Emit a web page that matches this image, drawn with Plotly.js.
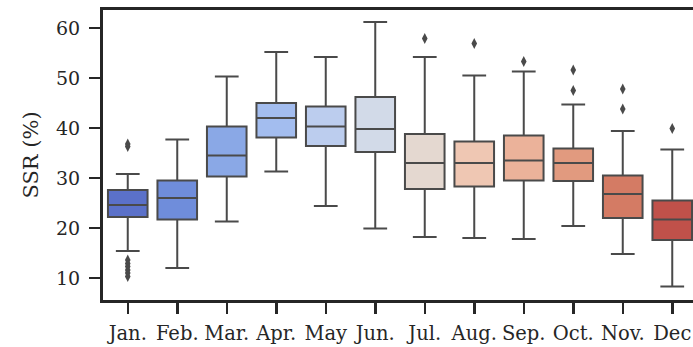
<!DOCTYPE html>
<html>
<head>
<meta charset="utf-8">
<script src="https://cdn.plot.ly/plotly-3.0.1.min.js"></script>
<style>
html,body{margin:0;padding:0;overflow:hidden;background:#fff;}
#chart{width:717px;height:347px;}
</style>
</head>
<body>
<div id="chart"></div>
<script>
// Data
var months = ['Jan.','Feb.','Mar.','Apr.','May','Jun.','Jul.','Aug.','Sep.','Oct.','Nov.','Dec'];
var lowerWhisker = [15.4, 12.0, 21.3, 31.3, 24.4, 19.9, 18.2, 18.0, 17.8, 20.4, 14.8, 8.3];
var q1Values     = [22.2, 21.7, 30.3, 38.1, 36.4, 35.2, 27.8, 28.3, 29.5, 29.4, 22.0, 17.6];
var medianValues = [24.6, 26.0, 34.5, 42.0, 40.3, 39.8, 33.0, 33.0, 33.5, 33.0, 26.8, 21.7];
var q3Values     = [27.6, 29.5, 40.3, 45.0, 44.3, 46.2, 38.8, 37.3, 38.5, 35.9, 30.5, 25.5];
var upperWhisker = [30.8, 37.7, 50.3, 55.2, 54.2, 61.2, 54.2, 50.5, 51.3, 44.7, 39.4, 35.7];
var outlierMonths = ['Jan.','Jan.','Jan.','Jan.','Jan.','Jan.','Jan.','Jan.',
                     'Jul.','Aug.','Sep.','Oct.','Oct.','Nov.','Nov.','Dec'];
var outlierValues = [36.3, 36.8, 13.6, 12.9, 12.3, 11.6, 11.0, 10.3,
                     57.9, 56.9, 53.3, 51.6, 47.5, 47.8, 43.8, 39.9];
var boxColors = ['#5b71c9','#6f8ddb','#8aa8e6','#a3bdef','#bccdee','#d2dae8',
                 '#e4d8d0','#efc7b3','#ebb29a','#e19a7f','#d47b64','#c0514a'];

var lineCol = '#4a4a4a';
var traces = [];
for (var i = 0; i < months.length; i++) {
  traces.push({
    type: 'box',
    x: [months[i]],
    q1: [q1Values[i]],
    median: [medianValues[i]],
    q3: [q3Values[i]],
    lowerfence: [lowerWhisker[i]],
    upperfence: [upperWhisker[i]],
    fillcolor: boxColors[i],
    line: {color: lineCol, width: 2},
    width: 0.8,
    whiskerwidth: 0.6,
    boxpoints: false,
    showlegend: false,
    hoverinfo: 'skip'
  });
}
traces.push({
  type: 'scatter',
  mode: 'markers',
  x: outlierMonths,
  y: outlierValues,
  marker: {symbol: 'diamond-tall', size: 8, color: lineCol},
  showlegend: false,
  hoverinfo: 'skip'
});

var fontFam = 'DejaVu Serif, serif';
var layout = {
  width: 717,
  height: 347,
  margin: {l: 103, r: 20, t: 10, b: 47},
  paper_bgcolor: '#ffffff',
  plot_bgcolor: '#ffffff',
  showlegend: false,
  font: {family: fontFam, color: '#262626', size: 19},
  xaxis: {
    type: 'category',
    categoryorder: 'array',
    categoryarray: months,
    range: [-0.5, 11.5],
    showgrid: false,
    zeroline: false,
    showline: true,
    mirror: true,
    linecolor: '#262626',
    linewidth: 3,
    ticks: 'outside',
    ticklen: 11,
    tickwidth: 2.5,
    tickcolor: '#262626',
    ticklabelstandoff: 3,
    tickfont: {family: fontFam, size: 19.5, color: '#262626'}
  },
  yaxis: {
    range: [5.6, 63.6],
    tickvals: [10, 20, 30, 40, 50, 60],
    showgrid: false,
    zeroline: false,
    showline: true,
    mirror: true,
    linecolor: '#262626',
    linewidth: 3,
    ticks: 'outside',
    ticklen: 11,
    tickwidth: 2.5,
    tickcolor: '#262626',
    ticklabelstandoff: 5,
    tickfont: {family: fontFam, size: 19, color: '#262626'},
    title: {text: 'SSR (%)', font: {family: fontFam, size: 21, color: '#262626'}, standoff: 12}
  }
};

Plotly.newPlot('chart', traces, layout, {displayModeBar: false, staticPlot: true});
</script>
</body>
</html>
